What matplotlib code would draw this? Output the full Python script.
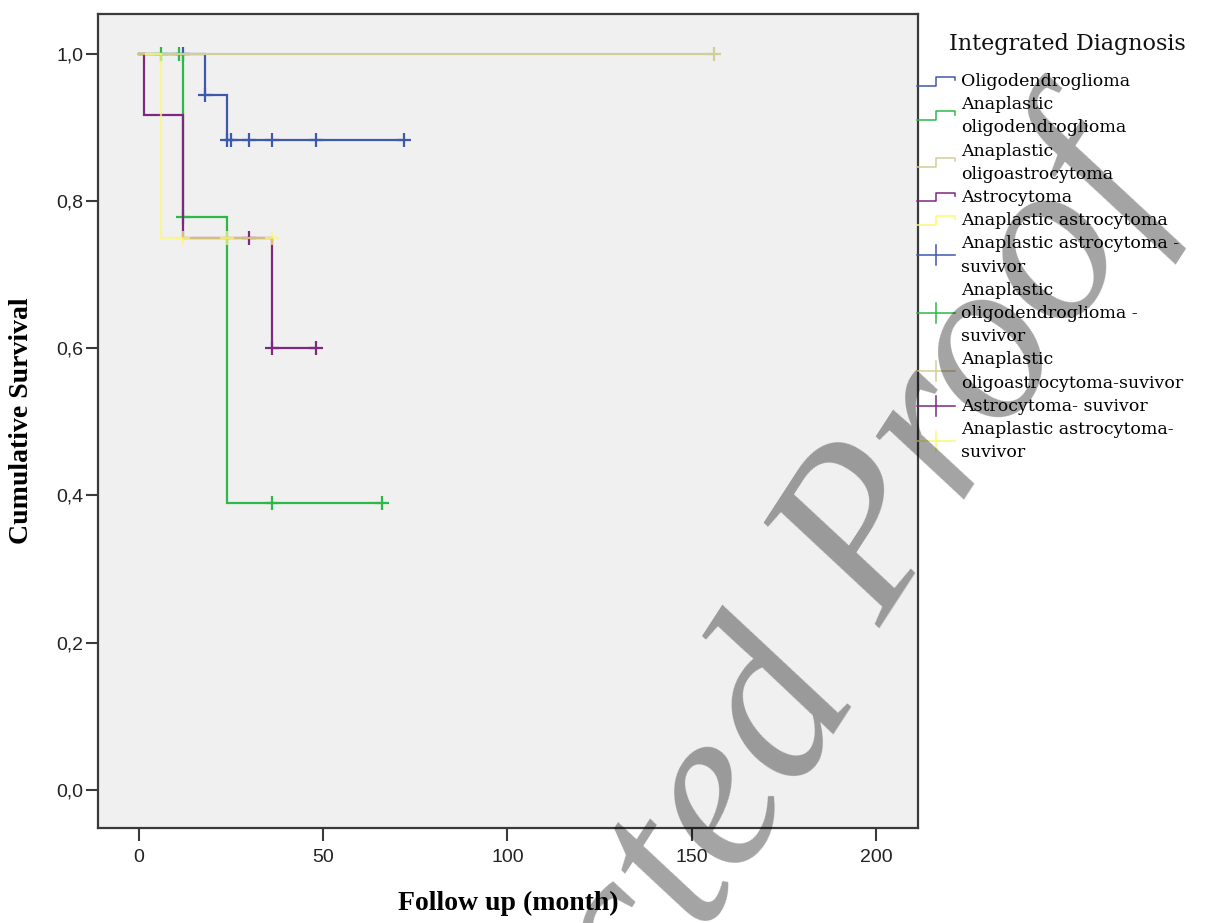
import math
import matplotlib
matplotlib.use("Agg")
import matplotlib.pyplot as plt
from matplotlib.lines import Line2D
from matplotlib.ticker import FuncFormatter

# ---------------- data ----------------
groups = ["Oligodendroglioma", "Anaplastic oligodendroglioma",
          "Anaplastic oligoastrocytoma", "Astrocytoma", "Anaplastic astrocytoma"]
colors = ["#3E58AC", "#2EB848", "#D3CE97", "#7C287D", "#FBF873"]

# event times (months) and survival right after each event
oligo_event_t = [18, 24]
oligo_surv = [0.944, 0.883]
oligo_end = 72
oligo_censor = [12, 18, 24, 25, 30, 36, 48, 72]

anaoligo_event_t = [12, 24]
anaoligo_surv = [0.778, 0.389]
anaoligo_end = 66
anaoligo_censor = [6, 11, 12, 36, 66]

anaoa_event_t = []
anaoa_surv = []
anaoa_end = 156
anaoa_censor = [156]

astro_event_t = [1.5, 12, 36]
astro_surv = [0.917, 0.75, 0.60]
astro_end = 48
astro_censor = [30, 36, 48]

anaastro_event_t = [6]
anaastro_surv = [0.75]
anaastro_end = 36
anaastro_censor = [12, 24, 36]

x_ticks = [0, 50, 100, 150, 200]
y_ticks = [0.0, 0.2, 0.4, 0.6, 0.8, 1.0]

legend_title = "Integrated Diagnosis"
legend_labels = [
    ["Oligodendroglioma"],
    ["Anaplastic", "oligodendroglioma"],
    ["Anaplastic", "oligoastrocytoma"],
    ["Astrocytoma"],
    ["Anaplastic astrocytoma"],
    ["Anaplastic astrocytoma -", "suvivor"],
    ["Anaplastic", "oligodendroglioma -", "suvivor"],
    ["Anaplastic", "oligoastrocytoma-suvivor"],
    ["Astrocytoma- suvivor"],
    ["Anaplastic astrocytoma-", "suvivor"],
]
legend_kinds = ["step"] * 5 + ["plus"] * 5
legend_colors = colors + colors

watermark_a = "Uncorrected"
watermark_b = "Proof"

# ---------------- figure ----------------
W, H = 1214, 923
fig = plt.figure(figsize=(W / 100, H / 100), dpi=100)
fig.patch.set_facecolor("white")

def fx(px):
    return px / W

def fy(py):
    return 1 - py / H

ax = fig.add_axes([fx(98), fy(828), fx(918) - fx(98), fy(14) - fy(828)])
ax.set_facecolor("#F0F0F0")


def km_steps(event_t, surv, end):
    xs, ys = [0], [1.0]
    cur = 1.0
    for t, s in zip(event_t, surv):
        xs += [t, t]
        ys += [cur, s]
        cur = s
    xs.append(end)
    ys.append(cur)
    return xs, ys


def level_at(event_t, surv, t):
    cur = 1.0
    for et, s in zip(event_t, surv):
        if et <= t:
            cur = s
    return cur


series = [
    (oligo_event_t, oligo_surv, oligo_end, oligo_censor, 1.0),
    (anaoligo_event_t, anaoligo_surv, anaoligo_end, anaoligo_censor, 1.0),
    (anaoa_event_t, anaoa_surv, anaoa_end, anaoa_censor, 1.0),
    (astro_event_t, astro_surv, astro_end, astro_censor, 1.0),
    (anaastro_event_t, anaastro_surv, anaastro_end, anaastro_censor, 0.72),
]

for (et, sv, end, cens, alpha), col in zip(series, colors):
    xs, ys = km_steps(et, sv, end)
    ax.plot(xs, ys, color=col, lw=1.6, alpha=alpha, solid_joinstyle="miter")
    cy = [level_at(et, sv, c) for c in cens]
    ax.plot(cens, cy, linestyle="none", marker="+", markersize=10,
            markeredgewidth=1.6, color=col, alpha=alpha)

ax.set_xlim(-11.1, 211.4)
ax.set_ylim(-0.052, 1.054)
ax.set_xticks(x_ticks)
ax.set_yticks(y_ticks)
ax.yaxis.set_major_formatter(FuncFormatter(lambda v, p: f"{v:.1f}".replace(".", ",")))

for sp in ax.spines.values():
    sp.set_color("#3a3a3a")
    sp.set_linewidth(1.6)

ax.tick_params(axis="both", direction="out", length=9, width=1.5, color="#3a3a3a",
               labelsize=14, labelcolor="#222222")
ax.tick_params(axis="y", pad=1.5)
ax.tick_params(axis="x", pad=6)
for lab in ax.get_xticklabels() + ax.get_yticklabels():
    lab.set_fontfamily("Liberation Sans")

fig.text(fx(508), fy(903), "Follow up (month)", ha="center", va="center",
         fontsize=20, fontweight="bold", family="Liberation Serif")
fig.text(fx(22), fy(421), "Cumulative Survival", ha="center", va="center",
         rotation=90, fontsize=20, fontweight="bold", family="Liberation Serif")

# ---------------- legend (drawn manually) ----------------
fig.text(fx(1067), fy(50), legend_title, ha="center", va="baseline",
         fontsize=16, family="DejaVu Serif", color="#111111")

base0 = 86.0
pitch = 23.2
line_idx = 0
for labels, kind, col in zip(legend_labels, legend_kinds, legend_colors):
    baselines = [base0 + pitch * (line_idx + k) for k in range(len(labels))]
    for b, t in zip(baselines, labels):
        fig.text(fx(961), fy(b), t, ha="left", va="baseline", fontsize=12.5,
                 family="DejaVu Serif", color="#000000")
    c = sum(baselines) / len(baselines) - 5
    if kind == "step":
        xs = [917, 936, 936, 955, 955]
        ys = [c + 4.5, c + 4.5, c - 4.5, c - 4.5, c - 1]
        fig.add_artist(Line2D([fx(v) for v in xs], [fy(v) for v in ys],
                              transform=fig.transFigure, color=col, lw=1.1))
    else:
        fig.add_artist(Line2D([fx(917), fx(955)], [fy(c), fy(c)],
                              transform=fig.transFigure, color=col, lw=1.1))
        fig.add_artist(Line2D([fx(936), fx(936)], [fy(c - 10), fy(c + 10)],
                              transform=fig.transFigure, color=col, lw=1.1))
    line_idx += len(labels)

# ---------------- watermark ----------------
rot = 57
wm_size = 170
wm_color = (0, 0, 0, 0.36)
gx, gy = 866, 652          # gap between the two words (pixels)
half_gap = 28
ux, uy = math.cos(math.radians(rot)), -math.sin(math.radians(rot))
fig.text(fx(gx + half_gap * ux), fy(gy + half_gap * uy), watermark_b,
         ha="left", va="baseline", rotation=rot, rotation_mode="anchor",
         fontsize=wm_size, style="italic", family="Liberation Serif",
         color=wm_color, zorder=10)
fig.text(fx(gx - half_gap * ux), fy(gy - half_gap * uy), watermark_a,
         ha="right", va="baseline", rotation=rot, rotation_mode="anchor",
         fontsize=wm_size, style="italic", family="Liberation Serif",
         color=wm_color, zorder=10)

fig.savefig("out.png", dpi=100)
